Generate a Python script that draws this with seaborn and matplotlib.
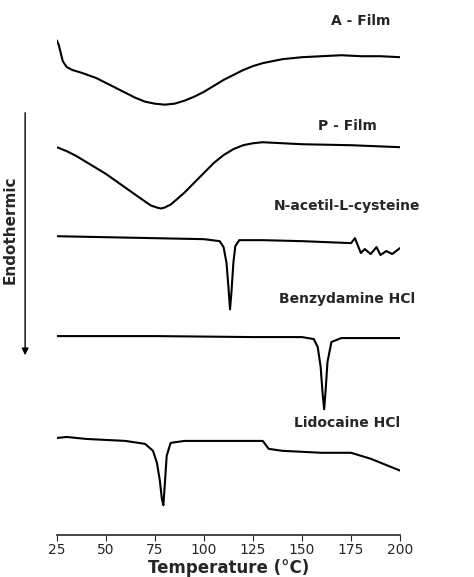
import numpy as np
import matplotlib
matplotlib.use('Agg')
import matplotlib.pyplot as plt
import seaborn as sns

# curves (temperature in °C, heat flow in arbitrary units, smaller = higher on page)
a_t = [25, 26, 27, 28, 30, 33, 38, 45, 50, 55, 60, 65, 70, 75, 80, 85, 90, 95, 100, 105, 110, 115, 120, 125, 130, 135, 140, 150, 160, 170, 180, 190, 200]
a_v = [35, 40, 48, 56, 62, 65, 68, 73, 78, 83, 88, 93, 97, 99, 100, 99, 96, 92, 87, 81, 75, 70, 65, 61, 58, 56, 54, 52, 51, 50, 51, 51, 52]

p_t = [25, 30, 35, 40, 45, 50, 55, 60, 65, 70, 73, 76, 78, 80, 83, 86, 90, 95, 100, 105, 110, 115, 120, 125, 130, 140, 150, 175, 200]
p_v = [143, 147, 152, 158, 164, 170, 177, 184, 191, 198, 202, 204, 205, 204, 201, 196, 189, 179, 169, 159, 151, 145, 141, 139, 138, 139, 140, 141, 143]

n_t = [25, 50, 75, 100, 108, 110, 111.5, 112.5, 113.3, 114, 115, 116, 118, 130, 150, 175, 177, 180, 182, 185, 188, 190, 193, 196, 200]
n_v = [233, 234, 235, 236, 238, 244, 260, 285, 307, 290, 260, 243, 237, 237, 238, 240, 235, 250, 246, 251, 244, 252, 248, 251, 245]

b_t = [25, 75, 125, 150, 156, 158, 159.5, 160.5, 161.3, 162, 163, 165, 170, 200]
b_v = [334, 334, 335, 335, 337, 345, 365, 392, 408, 390, 360, 340, 336, 336]

l_t = [25, 30, 40, 60, 70, 74, 76, 77.5, 78.5, 79.3, 80, 81, 83, 90, 110, 130, 133, 140, 160, 175, 185, 200]
l_v = [437, 436, 438, 440, 443, 450, 462, 480, 498, 505, 485, 455, 442, 440, 440, 440, 448, 450, 452, 452, 458, 470]

curves = [(a_t, a_v), (p_t, p_v), (n_t, n_v), (b_t, b_v), (l_t, l_v)]
names = ['A - Film', 'P - Film', 'N-acetil-L-cysteine', 'Benzydamine HCl', 'Lidocaine HCl']
label_pos = [(180, 15), (173, 122), (173, 202), (173, 297), (173, 422)]

sns.set_style('ticks')
fig = plt.figure(figsize=(4.74, 5.77), dpi=100)
ax = fig.add_axes([0.12, 0.073, 0.724, 0.917])

for (t, v) in curves:
    sns.lineplot(x=t, y=v, ax=ax, color='black', lw=1.5, sort=False)
for name, (x, y) in zip(names, label_pos):
    ax.text(x, y, name, ha='center', va='center', fontsize=10, fontweight='bold')

ax.set_xlim(25, 200)
ax.set_ylim(535, 0)
ax.set_xticks(range(25, 201, 25))
ax.set_yticks([])
for s in ['top', 'right', 'left']:
    ax.spines[s].set_visible(False)
ax.spines['bottom'].set_linewidth(1.2)
ax.tick_params(axis='x', labelsize=10, direction='out', length=4, pad=2)
ax.set_xlabel('Temperature (°C)', fontsize=12, fontweight='bold', labelpad=1)

# endothermic arrow on the left
fig.add_artist(matplotlib.patches.FancyArrowPatch((0.053, 1 - 110 / 577), (0.053, 1 - 358 / 577),
               transform=fig.transFigure, arrowstyle='-|>', mutation_scale=10, color='black', lw=1))
fig.text(0.022, 1 - 230 / 577, 'Endothermic', rotation=90, ha='center', va='center', fontsize=11, fontweight='bold')

fig.savefig('out.png', dpi=100)
